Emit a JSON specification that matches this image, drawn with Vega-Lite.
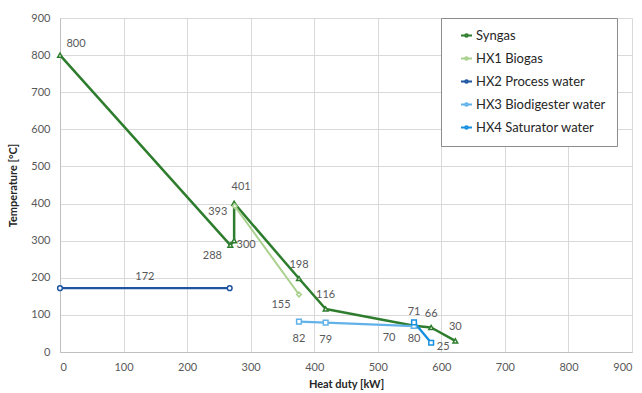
{
  "$schema": "https://vega.github.io/schema/vega-lite/v6.json",
  "width": 572,
  "height": 334,
  "autosize": {"type": "none"},
  "padding": {"left": 60, "top": 18, "right": 10, "bottom": 41},
  "background": "white",
  "config": {
    "font": "Lato",
    "view": {"stroke": null},
    "axis": {
      "grid": true, "gridColor": "#d9d9d9", "gridWidth": 1,
      "domainColor": "#bfbfbf", "ticks": false,
      "labelColor": "#595959", "labelFontSize": 11, "labelFont": "Lato",
      "titleColor": "#262626", "titleFontSize": 11, "titleFont": "Lato", "titleFontWeight": "bold"
    }
  },
  "datasets": {
    "pts": [
      {"series": "Syngas", "i": 1, "x": 0, "y": 800},
      {"series": "Syngas", "i": 2, "x": 268, "y": 288},
      {"series": "Syngas", "i": 3, "x": 274, "y": 300},
      {"series": "Syngas", "i": 4, "x": 274, "y": 401},
      {"series": "Syngas", "i": 5, "x": 376, "y": 198},
      {"series": "Syngas", "i": 6, "x": 418, "y": 116},
      {"series": "Syngas", "i": 7, "x": 557, "y": 71},
      {"series": "Syngas", "i": 8, "x": 584, "y": 66},
      {"series": "Syngas", "i": 9, "x": 622, "y": 30},
      {"series": "HX1 Biogas", "i": 1, "x": 275, "y": 393},
      {"series": "HX1 Biogas", "i": 2, "x": 376, "y": 155},
      {"series": "HX2 Process water", "i": 1, "x": 0, "y": 172},
      {"series": "HX2 Process water", "i": 2, "x": 267, "y": 172},
      {"series": "HX3 Biodigester water", "i": 1, "x": 376, "y": 82},
      {"series": "HX3 Biodigester water", "i": 2, "x": 418, "y": 79},
      {"series": "HX3 Biodigester water", "i": 3, "x": 557, "y": 70},
      {"series": "HX4 Saturator water", "i": 1, "x": 557, "y": 80},
      {"series": "HX4 Saturator water", "i": 2, "x": 584, "y": 25}
    ]
  },
  "data": {"name": "pts"},
  "encoding": {
    "x": {"field": "x", "type": "quantitative", "title": "Heat duty [kW]",
      "scale": {"domain": [0, 900], "nice": false},
      "axis": {"values": [0,100,200,300,400,500,600,700,800,900], "labelPadding": 9, "titlePadding": 6}},
    "y": {"field": "y", "type": "quantitative", "title": "Temperature [°C]",
      "scale": {"domain": [0, 900], "nice": false},
      "axis": {"values": [0,100,200,300,400,500,600,700,800,900], "labelPadding": 10, "titlePadding": 12}}
  },
  "layer": [
    {
      "mark": {"type": "line", "strokeJoin": "round"},
      "encoding": {
        "order": {"field": "i", "type": "quantitative"},
        "color": {"field": "series", "type": "nominal", "title": null,
          "scale": {"domain": ["Syngas", "HX1 Biogas", "HX2 Process water", "HX3 Biodigester water", "HX4 Saturator water"],
                    "range": ["#2e7d2e", "#a9d18e", "#1f55a0", "#62b2ea", "#1590e0"]},
          "legend": {
            "orient": "none", "legendX": 381, "legendY": 0,
            "fillColor": "white", "strokeColor": "#8c8c8c", "padding": 11,
            "labelFontSize": 13, "labelColor": "#262626", "labelFont": "Lato",
            "symbolType": "M-1,0H-0.24M0.24,0H1M-0.24,0A0.24,0.24 0 1,0 0.24,0A0.24,0.24 0 1,0 -0.24,0",
            "symbolSize": 121, "symbolStrokeWidth": 2, "symbolFillColor": "white",
            "rowPadding": 9, "labelOffset": 3, "offset": 0, "symbolOffset": 8
          }},
        "strokeWidth": {"field": "series", "type": "nominal", "legend": null,
          "scale": {"range": [2, 2.5, 1.6, 2.5, 2]}}
      }
    },
    {
      "transform": [{"calculate": "datum.series", "as": "marker"}],
      "mark": {"type": "point", "filled": false, "fill": "white", "strokeWidth": 1.5, "size": 22, "opacity": 1},
      "encoding": {
        "stroke": {"field": "marker", "type": "nominal", "legend": null,
          "scale": {"range": ["#a9d18e", "#1f55a0", "#62b2ea", "#1590e0", "#2e7d2e"]}},
        "shape": {"field": "marker", "type": "nominal", "legend": null,
          "scale": {"range": ["diamond", "circle", "square", "square", "triangle-up"]}}
      }
    },
    {
      "transform": [{"filter": "indexof([198,116,71,66,30], datum.y) >= 0"}],
      "mark": {"type": "text", "dy": -14, "fontSize": 11, "color": "#595959"},
      "encoding": {"text": {"field": "y", "type": "quantitative"}}
    },
    {
      "transform": [{"filter": "datum.y == 401"}],
      "mark": {"type": "text", "dx": 7, "dy": -16, "fontSize": 11, "color": "#595959"},
      "encoding": {"text": {"field": "y", "type": "quantitative"}}
    },
    {
      "transform": [{"filter": "datum.y == 800"}],
      "mark": {"type": "text", "dx": 16, "dy": -11, "fontSize": 11, "color": "#595959"},
      "encoding": {"text": {"field": "y", "type": "quantitative"}}
    },
    {
      "transform": [{"filter": "indexof([82,79,80], datum.y) >= 0"}],
      "mark": {"type": "text", "dy": 17, "fontSize": 11, "color": "#595959"},
      "encoding": {"text": {"field": "y", "type": "quantitative"}}
    },
    {
      "transform": [{"filter": "indexof([155,288], datum.y) >= 0"}],
      "mark": {"type": "text", "dx": -18, "dy": 11, "fontSize": 11, "color": "#595959"},
      "encoding": {"text": {"field": "y", "type": "quantitative"}}
    },
    {
      "transform": [{"filter": "datum.y == 393"}],
      "mark": {"type": "text", "dx": -17, "dy": 6, "fontSize": 11, "color": "#595959"},
      "encoding": {"text": {"field": "y", "type": "quantitative"}}
    },
    {
      "transform": [{"filter": "datum.y == 70"}],
      "mark": {"type": "text", "dx": -25, "dy": 12, "fontSize": 11, "color": "#595959"},
      "encoding": {"text": {"field": "y", "type": "quantitative"}}
    },
    {
      "transform": [{"filter": "indexof([300,25], datum.y) >= 0"}],
      "mark": {"type": "text", "dx": 12, "dy": 4, "fontSize": 11, "color": "#595959"},
      "encoding": {"text": {"field": "y", "type": "quantitative"}}
    },
    {
      "transform": [
        {"filter": "datum.series == 'HX2 Process water'"},
        {"aggregate": [{"op": "mean", "field": "x", "as": "x"}, {"op": "mean", "field": "y", "as": "y"}], "groupby": ["series"]}
      ],
      "mark": {"type": "text", "dy": -11, "fontSize": 11, "color": "#595959"},
      "encoding": {"text": {"field": "y", "type": "quantitative"}}
    }
  ]
}
